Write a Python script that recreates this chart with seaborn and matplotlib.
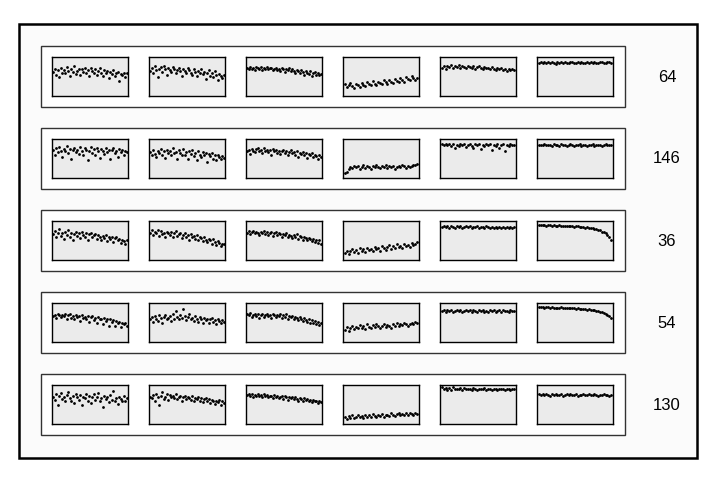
import numpy as np
import pandas as pd
import seaborn as sns
import matplotlib.pyplot as plt
from matplotlib.patches import Rectangle

sns.set_theme(style='white')
plt.rcParams['font.family'] = ['Liberation Sans', 'DejaVu Sans']

# row labels (right side)
row_labels = ['64', '146', '36', '54', '130']

# each row: six panels of readings (0 = panel bottom, 100 = panel top)
row_64 = [
    [62,70,55,66,48,72,60,67,58,74,63,52,69,61,76,57,65,70,54,68,62,73,59,66,50,71,64,58,69,55,63,72,60,52,67,58,64,45,61,56,66,50,59,62,38,57,53,60,48,58],
    [64,72,58,76,66,48,70,74,61,78,68,55,73,66,62,75,70,58,67,72,64,52,69,63,58,71,66,60,54,68,62,50,65,59,70,56,62,44,58,66,52,60,48,63,55,42,57,50,46,55],
    [72,68,74,70,73,67,75,71,69,74,66,72,70,75,68,71,73,66,70,72,67,69,64,71,68,62,70,66,72,63,68,65,60,67,63,58,66,61,55,64,60,57,63,50,59,61,55,58,53,57],
    [30,22,27,33,25,20,31,28,24,34,29,26,35,30,27,38,32,28,36,33,30,40,35,31,42,37,33,44,38,35,46,41,37,48,43,40,50,45,42,47],
    [72,76,70,78,74,80,73,77,75,79,72,76,74,71,78,75,73,77,70,74,76,72,69,75,71,73,68,74,70,66,72,69,71,67,70,65,68,66,70,67],
    [85,87,84,86,85,88,84,86,85,83,86,85,87,84,86,85,84,86,87,85,84,86,85,87,84,85,86,84,87,85,86,84,85,87,86,84,85,86,88,85],
]
row_146 = [
    [72,60,78,66,80,70,55,75,68,82,63,74,50,71,78,66,73,62,80,69,58,76,72,45,70,79,64,74,60,77,68,52,75,70,62,78,66,73,48,71,76,63,69,55,74,67,72,58,70,66],
    [66,58,72,62,54,70,65,75,60,68,52,73,64,70,58,76,63,67,48,71,65,60,74,58,66,50,69,62,72,56,64,45,68,60,55,66,58,63,42,61,56,64,50,58,45,60,53,48,57,52],
    [68,72,62,75,70,66,74,78,68,72,64,76,70,73,67,71,60,74,69,72,65,70,62,68,73,64,70,58,67,71,63,66,60,69,55,65,62,67,58,64,52,62,59,63,55,60,57,50,58,55],
    [12,16,22,28,25,30,27,32,24,29,33,26,31,28,23,30,27,34,29,25,31,28,33,26,30,27,32,24,29,31,28,33,30,26,32,29,31,34,33,35],
    [86,84,87,85,88,83,86,76,85,82,87,84,86,80,85,88,83,78,86,84,87,75,85,82,88,84,86,72,85,83,87,78,84,86,70,85,82,86,84,85],
    [84,85,84,86,85,84,85,83,86,84,85,82,86,84,85,83,85,86,84,82,85,84,86,83,85,84,82,85,84,86,83,85,84,85,83,84,86,84,85,84],
]
row_36 = [
    [66,74,58,70,80,62,68,55,72,64,76,60,70,52,66,73,61,68,56,71,64,60,69,52,66,70,58,63,67,55,64,60,50,62,57,65,48,60,55,58,46,56,60,50,54,44,52,48,40,50],
    [70,76,64,72,68,78,62,74,66,70,58,73,68,64,71,60,69,74,62,66,70,56,65,68,60,63,52,66,59,62,55,64,50,60,56,48,58,52,45,55,50,42,53,47,38,48,44,35,42,40],
    [70,74,66,72,75,68,73,70,64,72,69,74,67,71,65,70,73,62,68,71,64,69,66,60,67,63,69,58,65,62,56,64,60,66,55,61,58,52,60,56,50,57,53,48,55,46,52,44,50,42],
    [18,24,15,22,28,20,26,19,30,23,27,21,32,25,29,22,34,27,31,24,36,30,26,33,38,29,35,31,40,33,37,30,42,36,39,34,44,38,42,46],
    [85,88,84,87,82,86,85,83,87,84,86,82,85,87,84,86,83,85,84,86,82,85,84,83,86,84,82,85,83,84,81,85,83,84,82,84,83,85,82,84],
    [90,91,89,90,88,89,90,88,89,87,88,89,87,88,86,87,88,86,87,85,86,86,85,84,85,83,84,82,83,81,80,79,77,76,73,71,68,64,58,52],
]
row_54 = [
    [66,70,62,72,68,64,70,66,73,60,68,71,62,67,58,70,64,66,55,68,62,65,58,67,52,63,66,56,62,48,64,58,60,45,62,55,58,42,60,52,56,40,55,48,52,38,50,45,48,42],
    [58,64,52,66,60,55,68,62,50,64,70,58,62,66,54,72,60,80,65,58,70,62,84,66,56,64,72,58,62,55,66,60,52,64,58,50,62,56,60,48,58,62,52,57,45,60,55,50,56,52],
    [72,68,74,65,70,73,66,71,62,69,72,64,68,71,66,70,62,72,68,64,70,67,73,62,69,65,71,60,67,63,66,58,64,61,56,63,59,54,62,57,52,58,50,56,48,54,46,52,44,48],
    [32,38,28,36,42,33,39,35,44,37,41,34,46,39,36,43,38,45,40,36,42,47,39,44,41,37,45,42,48,40,46,43,49,45,41,47,50,46,52,49],
    [80,82,78,81,79,83,77,80,82,79,81,76,80,83,79,81,78,82,80,77,81,79,83,78,80,76,82,79,81,78,80,82,77,81,79,80,78,81,79,80],
    [90,89,90,88,89,89,88,89,87,88,88,87,89,88,87,88,86,87,86,87,85,86,85,84,85,84,83,84,82,83,81,80,79,78,76,75,72,70,66,62],
]
row_130 = [
    [70,62,76,50,72,80,64,68,58,74,82,66,60,72,55,78,68,62,74,48,70,66,78,60,72,54,68,76,62,70,80,58,66,44,72,64,68,56,74,62,84,60,66,52,70,64,58,72,60,66],
    [70,66,74,60,78,68,50,72,82,64,70,76,62,74,68,72,66,76,64,70,73,60,68,72,64,70,66,62,71,58,67,64,69,60,66,56,63,67,58,64,55,62,59,52,60,56,62,50,58,55],
    [74,76,72,78,70,75,73,77,71,74,69,76,72,75,68,73,71,66,74,70,72,67,70,73,65,71,68,62,70,66,69,63,68,65,60,67,63,58,66,62,64,59,62,56,61,58,60,54,59,56],
    [18,14,20,16,22,15,19,23,17,21,16,24,19,22,18,25,20,17,23,21,26,19,24,22,20,27,23,21,25,28,22,26,24,29,23,27,25,22,28,26],
    [95,90,93,88,92,87,94,89,91,90,93,88,92,90,89,91,88,92,90,87,91,89,90,92,88,90,91,87,90,89,88,91,89,90,88,89,90,88,89,90],
    [76,75,77,74,76,75,73,76,75,77,74,75,76,73,75,77,74,76,75,74,76,73,75,74,76,75,74,77,75,74,76,75,73,75,74,76,74,75,73,74],
]
rows = [row_64, row_146, row_36, row_54, row_130]

W, H = 720, 482
fig = plt.figure(figsize=(W / 100, H / 100), dpi=100)
fig.patch.set_facecolor('white')


def box(x0, y0, x1, y1, **kw):
    # rectangle given in pixel coords (origin top-left), drawn under the axes
    fig.patches.append(Rectangle((x0 / W, 1 - y1 / H), (x1 - x0) / W, (y1 - y0) / H,
                                 transform=fig.transFigure, zorder=-5, **kw))


# outer frame
box(19, 24, 697, 458, facecolor='#fbfbfb', edgecolor='black', lw=1.8)

for r, panels in enumerate(rows):
    top = 46 + 82 * r
    box(41, top, 625, top + 61, facecolor='white', edgecolor='#333333', lw=1)
    for c, vals in enumerate(panels):
        x0 = 52 + 97 * c
        y0 = top + 11
        ax = fig.add_axes([x0 / W, 1 - (y0 + 39) / H, 76 / W, 39 / H])
        df = pd.DataFrame({'t': np.arange(len(vals)), 'v': vals})
        sns.scatterplot(data=df, x='t', y='v', ax=ax, s=4, color='black', linewidth=0)
        ax.set_xlim(-1, len(vals))
        ax.set_ylim(0, 100)
        ax.set_facecolor('#ebebeb')
        ax.set_xticks([])
        ax.set_yticks([])
        ax.set_xlabel('')
        ax.set_ylabel('')
        for s in ax.spines.values():
            s.set_color('black')
            s.set_linewidth(1)
    fig.text(667 / W, 1 - (top + 31) / H, row_labels[r], ha='center', va='center',
             fontsize=12, color='black')

fig.savefig('out.png', dpi=100)
